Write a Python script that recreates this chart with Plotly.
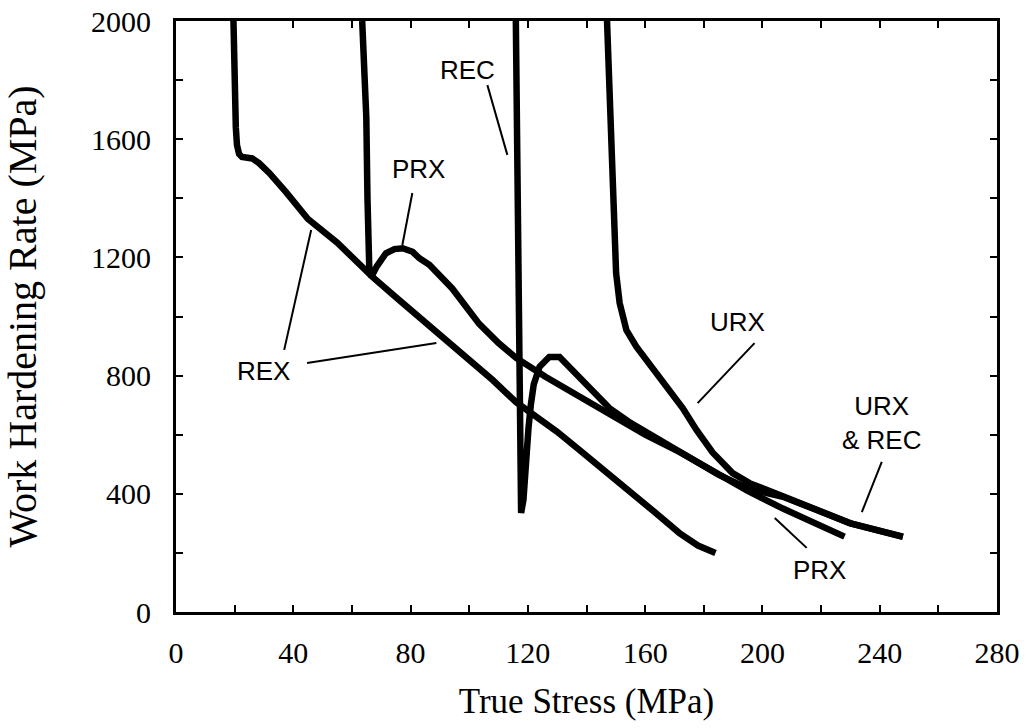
import plotly.graph_objects as go

# ---------------- data ----------------
rex_x = [19.6, 19.8, 20.0, 20.4, 20.8, 21.5, 22.5, 26.0, 28.3, 31.8, 37.6, 45.0, 55.0, 60.0, 67.0,
         75.0, 83.0, 95.0, 103.4, 108.0, 116.0, 121.5, 130.0, 137.6, 146.0, 154.7, 163.0, 171.7, 178.0, 184.0]
rex_y = [2000, 1850, 1700, 1640, 1580, 1550, 1540, 1535, 1519, 1486, 1420, 1330, 1250, 1200, 1134,
         1065, 998, 895, 820, 785, 710, 673, 610, 548, 480, 413, 340, 267, 225, 200]

prx_x = [63.5, 64.2, 64.9, 65.3, 65.9, 66.6, 68.5, 71.6, 74.5, 77.3, 80.7, 83.0, 86.4, 94.2, 103.4,
         110.0, 116.0, 126.0, 137.6, 149.0, 160.0, 172.0, 184.0, 195.0, 207.0, 218.0, 228.0]
prx_y = [2000, 1850, 1675, 1400, 1170, 1134, 1170, 1214, 1228, 1231, 1219, 1197, 1175, 1095, 975,
         910, 860, 796, 728, 660, 600, 540, 470, 410, 350, 300, 255]

rec_x = [115.9, 116.2, 116.5, 116.8, 117.1, 117.4, 117.7, 118.5, 119.2, 120.2, 121.0, 122.0, 124.0,
         127.3, 130.8, 134.2, 141.0, 147.8, 155.0, 165.0, 175.0, 185.0, 195.0, 207.0, 218.5, 230.0, 247.9]
rec_y = [2000, 1600, 1200, 800, 500, 360, 335, 380, 500, 620, 700, 770, 830,
         863, 863, 829, 761, 690, 640, 580, 520, 465, 418, 390, 345, 300, 255]

urx_x = [147.0, 147.8, 148.5, 149.0, 149.5, 150.1, 151.3, 153.6, 157.0, 160.5, 164.0, 168.3, 172.8,
         177.5, 183.0, 189.8, 195.6, 207.0, 218.5, 229.8, 247.9]
urx_y = [2000, 1777, 1553, 1327, 1270, 1147, 1046, 954, 898, 853, 805, 751, 690,
         616, 540, 470, 436, 392, 347, 301, 254]

x_ticks = [0, 20, 40, 60, 80, 100, 120, 140, 160, 180, 200, 220, 240, 260, 280]
x_tick_text = ["0", "", "40", "", "80", "", "120", "", "160", "", "200", "", "240", "", "280"]
y_ticks = [0, 200, 400, 600, 800, 1000, 1200, 1400, 1600, 1800, 2000]
y_tick_text = ["0", "", "400", "", "800", "", "1200", "", "1600", "", "2000"]

# label texts, positions and pointer lines (layout only)
labels = ["PRX", "REC", "REX", "URX", "URX<br>& REC", "PRX"]
label_pos = [(82.6, 1499), (99.3, 1834), (30.0, 816), (191.5, 981), (240.7, 640), (219.5, 142)]
pointers = [
    ((80.6, 1418), (77.2, 1242)),
    ((106.2, 1783), (113.0, 1547)),
    ((36.9, 887), (46.1, 1293)),
    ((44.7, 843), (88.8, 910)),
    ((197.3, 910), (177.9, 707)),
    ((240.7, 508), (233.9, 338)),
    ((215.1, 217), (204.2, 318)),
]

fig = go.Figure()
for xs, ys, name in [(rex_x, rex_y, "REX"), (prx_x, prx_y, "PRX"),
                     (rec_x, rec_y, "REC"), (urx_x, urx_y, "URX")]:
    fig.add_trace(go.Scatter(x=xs, y=ys, mode="lines", name=name,
                             line=dict(color="black", width=6.5), showlegend=False))

for (x0, y0), (x1, y1) in pointers:
    fig.add_shape(type="line", x0=x0, y0=y0, x1=x1, y1=y1, xref="x", yref="y",
                  line=dict(color="black", width=2))

for txt, (lx, ly) in zip(labels, label_pos):
    fig.add_annotation(x=lx, y=ly, text=txt, showarrow=False, xref="x", yref="y",
                       font=dict(family="Liberation Sans, Arial", size=26, color="black"),
                       align="center")

axis_common = dict(showline=True, linecolor="black", linewidth=3, mirror="ticks",
                   ticks="inside", ticklen=7, tickwidth=2, tickcolor="black",
                   showgrid=False, zeroline=False, automargin=False,
                   tickfont=dict(family="Liberation Serif, Times New Roman", size=30, color="black"))

fig.update_xaxes(range=[0, 280], tickmode="array", tickvals=x_ticks, ticktext=x_tick_text,
                 ticklabelstandoff=12,
                 title=dict(text="True Stress (MPa)", standoff=21,
                            font=dict(family="Liberation Serif, Times New Roman", size=35, color="black")),
                 **axis_common)
fig.update_yaxes(range=[0, 2000], tickmode="array", tickvals=y_ticks, ticktext=y_tick_text,
                 ticklabelstandoff=16,
                 title=dict(text="Work Hardening Rate (MPa)", standoff=44,
                            font=dict(family="Liberation Serif, Times New Roman", size=40, color="black")),
                 **axis_common)

fig.update_layout(width=1027, height=728, margin=dict(l=176, r=30, t=21, b=116),
                  paper_bgcolor="white", plot_bgcolor="white")

fig.write_html("out.html")
